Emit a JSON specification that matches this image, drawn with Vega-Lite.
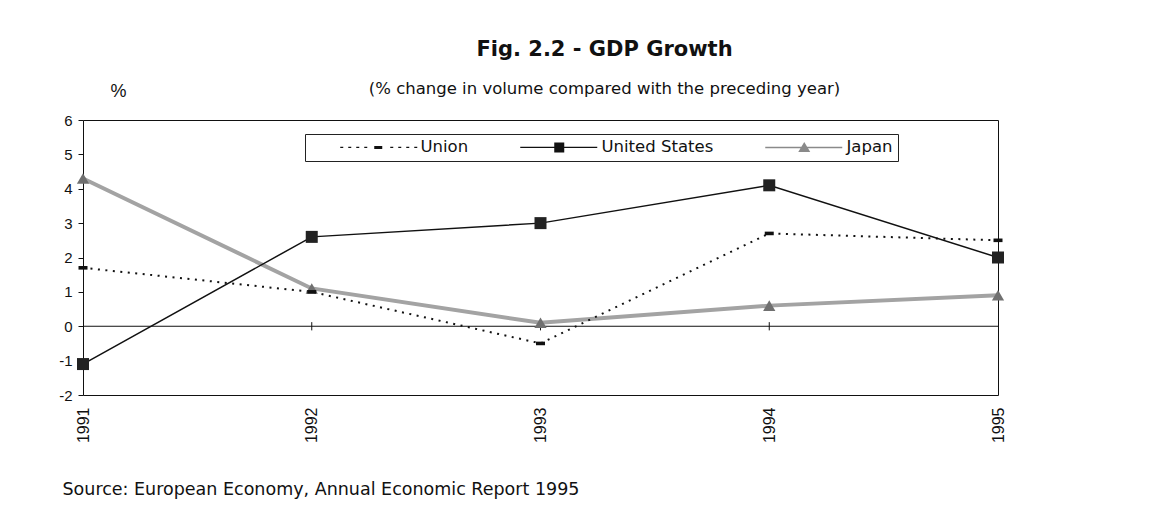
{
  "$schema": "https://vega.github.io/schema/vega-lite/v6.json",
  "autosize": {"type": "none"},
  "padding": {"left": 83, "top": 120, "right": 166, "bottom": 136},
  "width": 915,
  "height": 275,
  "background": "white",
  "config": {
    "font": "DejaVu Sans",
    "view": {"stroke": "#111", "strokeWidth": 1}
  },
  "title": {
    "text": "Fig. 2.2 - GDP Growth",
    "subtitle": "(% change in volume compared with the preceding year)",
    "anchor": "middle",
    "dx": 64,
    "offset": -15,
    "fontSize": 21,
    "fontWeight": "bold",
    "color": "#111",
    "subtitleFontSize": 16.5,
    "subtitleColor": "#111",
    "subtitlePadding": 21
  },
  "datasets": {
    "gdp": [
      {"year": "1991", "series": "Union", "value": 1.7},
      {"year": "1992", "series": "Union", "value": 1.0},
      {"year": "1993", "series": "Union", "value": -0.5},
      {"year": "1994", "series": "Union", "value": 2.7},
      {"year": "1995", "series": "Union", "value": 2.5},
      {"year": "1991", "series": "United States", "value": -1.1},
      {"year": "1992", "series": "United States", "value": 2.6},
      {"year": "1993", "series": "United States", "value": 3.0},
      {"year": "1994", "series": "United States", "value": 4.1},
      {"year": "1995", "series": "United States", "value": 2.0},
      {"year": "1991", "series": "Japan", "value": 4.3},
      {"year": "1992", "series": "Japan", "value": 1.1},
      {"year": "1993", "series": "Japan", "value": 0.1},
      {"year": "1994", "series": "Japan", "value": 0.6},
      {"year": "1995", "series": "Japan", "value": 0.9}
    ],
    "ticks": [
      {"year": "1992", "lo": -0.12, "hi": 0.12},
      {"year": "1993", "lo": -0.12, "hi": 0.12},
      {"year": "1994", "lo": -0.12, "hi": 0.12}
    ]
  },
  "encoding": {
    "x": {
      "field": "year",
      "type": "ordinal",
      "scale": {"type": "point", "padding": 0, "domain": ["1991", "1992", "1993", "1994", "1995"]},
      "axis": {
        "title": "Source: European Economy, Annual Economic Report 1995",
        "titleFont": "DejaVu Sans",
        "titleFontSize": 17.5,
        "titleFontWeight": "normal",
        "titleColor": "#111",
        "titleAlign": "left",
        "titleAnchor": "start",
        "titleBaseline": "top",
        "titleX": -21,
        "titleY": 85,
        "labelAngle": -90,
        "labelFont": "Liberation Sans",
        "labelFontSize": 16,
        "labelColor": "#111",
        "labelPadding": 12,
        "ticks": false,
        "domain": false,
        "grid": false
      }
    },
    "y": {
      "field": "value",
      "type": "quantitative",
      "scale": {"domain": [-2, 6], "nice": false},
      "axis": {
        "values": [-2, -1, 0, 1, 2, 3, 4, 5, 6],
        "labelExpr": "'' + datum.value",
        "labelOverlap": false,
        "labelFont": "Liberation Sans",
        "title": "%",
        "titleFont": "Liberation Sans",
        "titleAngle": 0,
        "titleFontSize": 18,
        "titleFontWeight": "normal",
        "titleColor": "#111",
        "titleAlign": "center",
        "titleBaseline": "bottom",
        "titleX": 35,
        "titleY": -20,
        "labelFontSize": 15,
        "labelColor": "#111",
        "labelPadding": 6,
        "tickSize": 5,
        "tickColor": "#111",
        "domain": false,
        "grid": false
      }
    },
    "color": {
      "field": "series",
      "type": "nominal",
      "scale": {"domain": ["Union", "United States", "Japan"], "range": ["#111111", "#111111", "#a3a3a3"]},
      "legend": {
        "title": null,
        "orient": "none",
        "legendX": 222,
        "legendY": 14,
        "direction": "horizontal",
        "columns": 3,
        "columnPadding": 22,
        "padding": 5,
        "strokeColor": "#222",
        "fillColor": "white",
        "labelFont": "DejaVu Sans",
        "labelFontSize": 16.5,
        "labelColor": "#111",
        "labelOffset": 94,
        "symbolSize": 100,
        "encode": {
          "symbols": {
            "update": {
              "shape": {"signal": "datum.value === 'Union' ? 'M4.4,-0.12h0.6v0.24h-0.6Z M6.0,-0.12h0.6v0.24h-0.6Z M7.6,-0.12h0.6v0.24h-0.6Z M9.2,-0.12h0.6v0.24h-0.6Z M11.2,-0.3H12.8V0.3H11.2Z M14.4,-0.12h0.6v0.24h-0.6Z M16.0,-0.12h0.6v0.24h-0.6Z M17.6,-0.12h0.6v0.24h-0.6Z M19.2,-0.12h0.6v0.24h-0.6Z' : datum.value === 'United States' ? 'M4.2,-0.12H19.6V0.12H4.2Z M11,-1H13V1H11Z' : 'M4.2,-0.15H19.6V0.15H4.2Z M12,-1.1L13.2,0.9L10.8,0.9Z'"},
              "fill": {"signal": "datum.value === 'Japan' ? '#8a8a8a' : '#111111'"},
              "stroke": {"value": "transparent"},
              "strokeWidth": {"value": 0},
              "strokeDash": {"value": []},
              "size": {"value": 100},
              "opacity": {"value": 1}
            }
          }
        }
      }
    }
  },
  "layer": [
    {
      "data": {"values": [{"z": 0}]},
      "mark": {"type": "rule", "color": "#111", "strokeWidth": 1},
      "encoding": {"x": null, "color": null, "y": {"field": "z", "type": "quantitative"}}
    },
    {
      "data": {"name": "ticks"},
      "mark": {"type": "rule", "color": "#111", "strokeWidth": 1},
      "encoding": {
        "color": null,
        "y": {"field": "lo", "type": "quantitative"},
        "y2": {"field": "hi"}
      }
    },
    {
      "data": {"name": "gdp"},
      "transform": [{"filter": "datum.series === 'Japan'"}],
      "mark": {"type": "line", "strokeWidth": 4}
    },
    {
      "data": {"name": "gdp"},
      "transform": [{"filter": "datum.series === 'Union'"}],
      "mark": {"type": "line", "strokeWidth": 2, "strokeDash": [2, 5.5]}
    },
    {
      "data": {"name": "gdp"},
      "transform": [{"filter": "datum.series === 'United States'"}],
      "mark": {"type": "line", "strokeWidth": 1.5}
    },
    {
      "data": {"name": "gdp"},
      "transform": [{"filter": "datum.series === 'Japan'"}],
      "mark": {"type": "point", "filled": true, "opacity": 1, "size": 150, "shape": "triangle-up", "fill": "#707070", "strokeWidth": 0},
      "encoding": {"color": null}
    },
    {
      "data": {"name": "gdp"},
      "transform": [{"filter": "datum.series === 'Union'"}],
      "mark": {"type": "point", "filled": true, "opacity": 1, "size": 144, "shape": "M-0.75,-0.3H0.75V0.3H-0.75Z", "fill": "#111111", "strokeWidth": 0},
      "encoding": {"color": null}
    },
    {
      "data": {"name": "gdp"},
      "transform": [{"filter": "datum.series === 'United States'"}],
      "mark": {"type": "point", "filled": true, "opacity": 1, "size": 144, "shape": "square", "fill": "#222222", "strokeWidth": 0},
      "encoding": {"color": null}
    }
  ]
}
